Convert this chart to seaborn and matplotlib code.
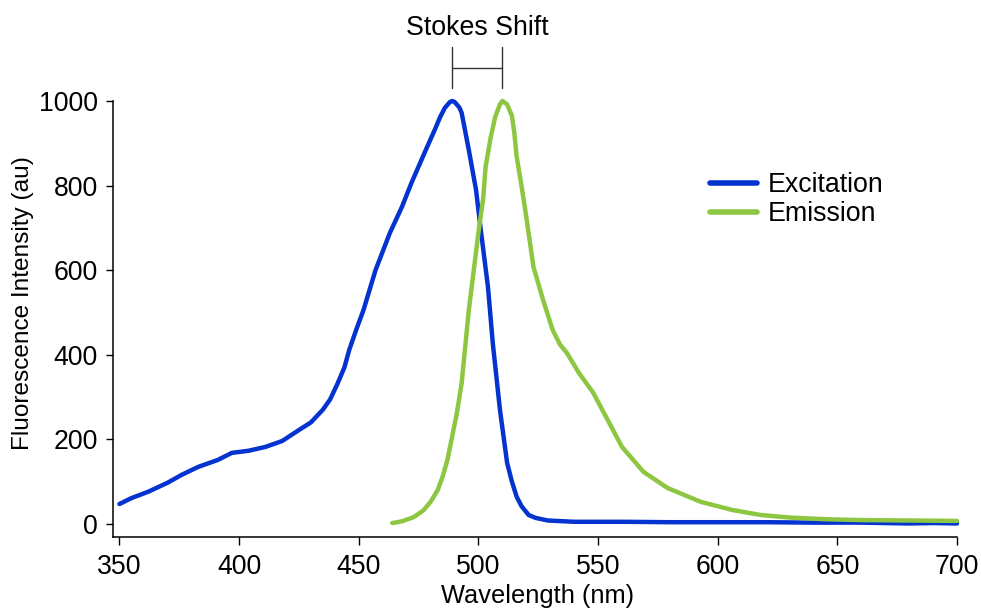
import numpy as np
import matplotlib
matplotlib.use("Agg")
import matplotlib.pyplot as plt
import pandas as pd
import seaborn as sns

# Data
ex_wl = [350, 355, 362, 370, 376, 383, 391, 397, 404, 411, 418, 425, 430, 435, 438,
         441, 444, 446, 449, 452, 457, 463, 468, 472, 478, 482, 484, 486, 488, 489,
         490, 492, 493, 496, 499, 501, 504, 506, 509, 512, 514, 516, 518, 521, 524,
         529, 540, 560, 580, 600, 620, 640, 660, 680, 690, 700]
ex_val = [47, 61, 76, 97, 116, 135, 151, 168, 173, 182, 196, 222, 240, 270, 294,
          330, 370, 411, 460, 506, 600, 688, 749, 806, 884, 935, 962, 984, 997, 1000,
          998, 985, 972, 884, 790, 695, 560, 428, 270, 144, 100, 64, 42, 21, 14,
          8, 5, 5, 4, 4, 4, 3, 3, 1, 2, 1]

em_wl = [464, 468, 473, 477, 480, 483, 485, 487, 489, 491, 493, 496, 498, 500, 502,
         503, 505, 507, 509, 510, 512, 514, 515, 516, 518, 520, 523, 527, 531, 534, 537,
         542, 548, 554, 560, 569, 579, 593, 606, 618, 630, 645, 660, 680, 700]
em_val = [2, 6, 16, 32, 52, 80, 111, 150, 206, 262, 333, 506, 597, 688, 770,
          844, 910, 962, 992, 1000, 992, 965, 925, 868, 800, 726, 608, 530, 459, 425, 404,
          357, 310, 246, 182, 123, 85, 52, 33, 21, 15, 11, 9, 8, 7]

stokes_x = [489, 510]

blue = "#0433d0"
green = "#8dc641"

df = pd.concat([
    pd.DataFrame({"Wavelength": ex_wl, "Intensity": ex_val, "Series": "Excitation"}),
    pd.DataFrame({"Wavelength": em_wl, "Intensity": em_val, "Series": "Emission"}),
])

sns.set_theme(style="ticks")
plt.rcParams["font.family"] = ["Liberation Sans", "DejaVu Sans"]

fig = plt.figure(figsize=(9.81, 6.11), dpi=100)
ax = fig.add_axes([113 / 981, 1 - 537 / 611, 844 / 981, 436 / 611])

sns.lineplot(data=df, x="Wavelength", y="Intensity", hue="Series",
             palette={"Excitation": blue, "Emission": green},
             linewidth=3.2, ax=ax, sort=False, estimator=None)
for ln in ax.lines:
    ln.set_clip_on(False)
    ln.set_solid_joinstyle("round")

ax.set_xlim(347.3, 700)
ax.set_ylim(-31, 1000)
ax.set_xticks(np.arange(350, 701, 50))
ax.set_yticks(np.arange(0, 1001, 200))
sns.despine(ax=ax)
for s in ["left", "bottom"]:
    ax.spines[s].set_linewidth(1.1)
    ax.spines[s].set_color("black")
ax.tick_params(axis="both", labelsize=19.2, width=1.0, color="black", labelcolor="black")
ax.tick_params(axis="y", length=5, pad=6)
ax.tick_params(axis="x", length=6, pad=6)

ax.set_xlabel("Wavelength (nm)", fontsize=18.3, color="black")
ax.set_ylabel("Fluorescence Intensity (au)", fontsize=17.6, color="black")
ax.xaxis.set_label_coords(0.5036, -0.108)
ax.yaxis.set_label_coords(-0.094, 0.537)

# Stokes shift bracket
bk = dict(color="#333333", lw=1.0, clip_on=False)
ax.plot([stokes_x[0]] * 2, [1030, 1128], **bk)
ax.plot([stokes_x[1]] * 2, [1030, 1128], **bk)
ax.plot(stokes_x, [1078, 1078], **bk)
ax.text(np.mean(stokes_x), 1172, "Stokes Shift", ha="center", va="center",
        fontsize=19.3, color="black")

leg = ax.legend(loc="upper left", bbox_to_anchor=(710 / 981, 1 - 172 / 611),
                bbox_transform=fig.transFigure, frameon=False, fontsize=19.3,
                handlelength=1.75, handletextpad=0.42, labelspacing=0.12,
                borderpad=0, borderaxespad=0)
for h in leg.get_lines():
    h.set_linewidth(4)
for t in leg.get_texts():
    t.set_color("black")

fig.savefig("out.png", dpi=100)
